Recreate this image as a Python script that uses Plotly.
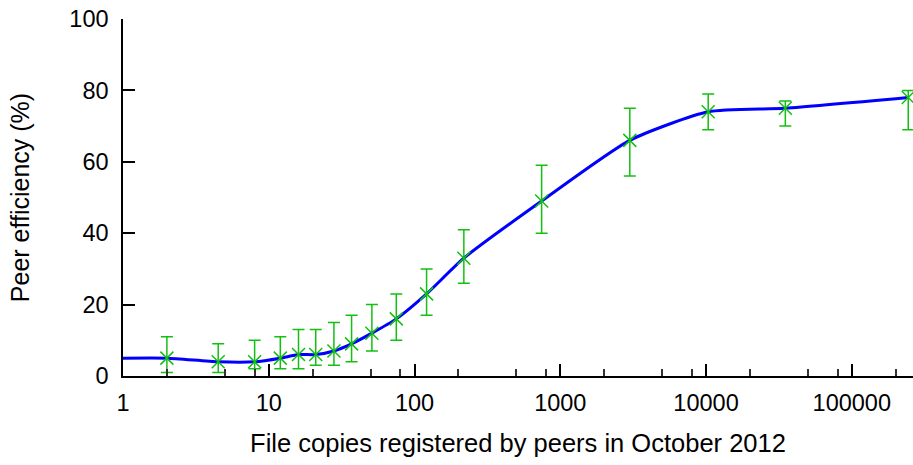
import plotly.graph_objects as go

# File copies (x) vs. mean peer efficiency with min/max spread
copies = [2, 4.5, 8, 12, 16, 21, 28, 37, 51, 75, 121, 218, 745, 3000, 10350, 35000, 244000]
efficiency = [5, 4, 4, 5, 6, 6, 7, 9, 12, 16, 23, 33, 49, 66, 74, 75, 78]
eff_high = [11, 9, 10, 11, 13, 13, 15, 17, 20, 23, 30, 41, 59, 75, 79, 77, 80]
eff_low = [1, 1, 2, 2, 2, 3, 3, 4, 7, 10, 17, 26, 40, 56, 69, 70, 69]

# Smoothed trend curve, starting at the left edge of the axis
curve_x = [1] + copies
curve_y = [5] + efficiency

x_major = [1, 10, 100, 1000, 10000, 100000]
x_major_text = ["1", "10", "100", "1000", "10000", "100000"]
x_minor = [d * m for d in [1, 10, 100, 1000, 10000, 100000] for m in (2, 5, 8)]
y_ticks = [0, 20, 40, 60, 80, 100]

GREEN = "#12c012"
BLUE = "#0000ff"

fig = go.Figure()

fig.add_trace(go.Scatter(
    x=curve_x, y=curve_y, mode="lines",
    line=dict(color=BLUE, width=3, shape="spline", smoothing=0.6),
    hoverinfo="skip", showlegend=False,
))

fig.add_trace(go.Scatter(
    x=copies, y=efficiency, mode="markers",
    marker=dict(symbol="x-thin", size=13, line=dict(color=GREEN, width=1.5), color=GREEN),
    error_y=dict(
        type="data", symmetric=False,
        array=[h - v for h, v in zip(eff_high, efficiency)],
        arrayminus=[v - l for v, l in zip(efficiency, eff_low)],
        color=GREEN, thickness=1.5, width=6,
    ),
    showlegend=False,
))

font = dict(family="Liberation Sans, Arial, sans-serif", color="#000000")

fig.update_layout(
    width=913, height=465,
    margin=dict(l=123, r=0, t=19, b=89),
    paper_bgcolor="white", plot_bgcolor="white",
    font=dict(**font, size=23),
    showlegend=False,
)

fig.update_xaxes(
    type="log", range=[0, 5.42],
    tickmode="array", tickvals=x_major, ticktext=x_major_text,
    ticks="inside", ticklen=12, tickwidth=1.5, tickcolor="#000000",
    minor=dict(tickmode="array", tickvals=x_minor, ticks="inside",
               ticklen=7, tickwidth=1.5, tickcolor="#333333", showgrid=False),
    showline=True, linecolor="#000000", linewidth=1.5,
    showgrid=False, zeroline=False,
    tickfont=dict(size=23.5), ticklabelstandoff=5,
    title=dict(text="File copies registered by peers in October 2012",
               font=dict(size=25.5), standoff=19),
)

fig.update_yaxes(
    range=[0, 100],
    tickmode="array", tickvals=y_ticks,
    ticks="inside", ticklen=12, tickwidth=1.5, tickcolor="#000000",
    showline=True, linecolor="#000000", linewidth=1.5,
    showgrid=False, zeroline=False,
    tickfont=dict(size=23.5), ticklabelstandoff=8,
    title=dict(text="Peer efficiency (%)", font=dict(size=25), standoff=33),
)

fig.write_html("out.html")
